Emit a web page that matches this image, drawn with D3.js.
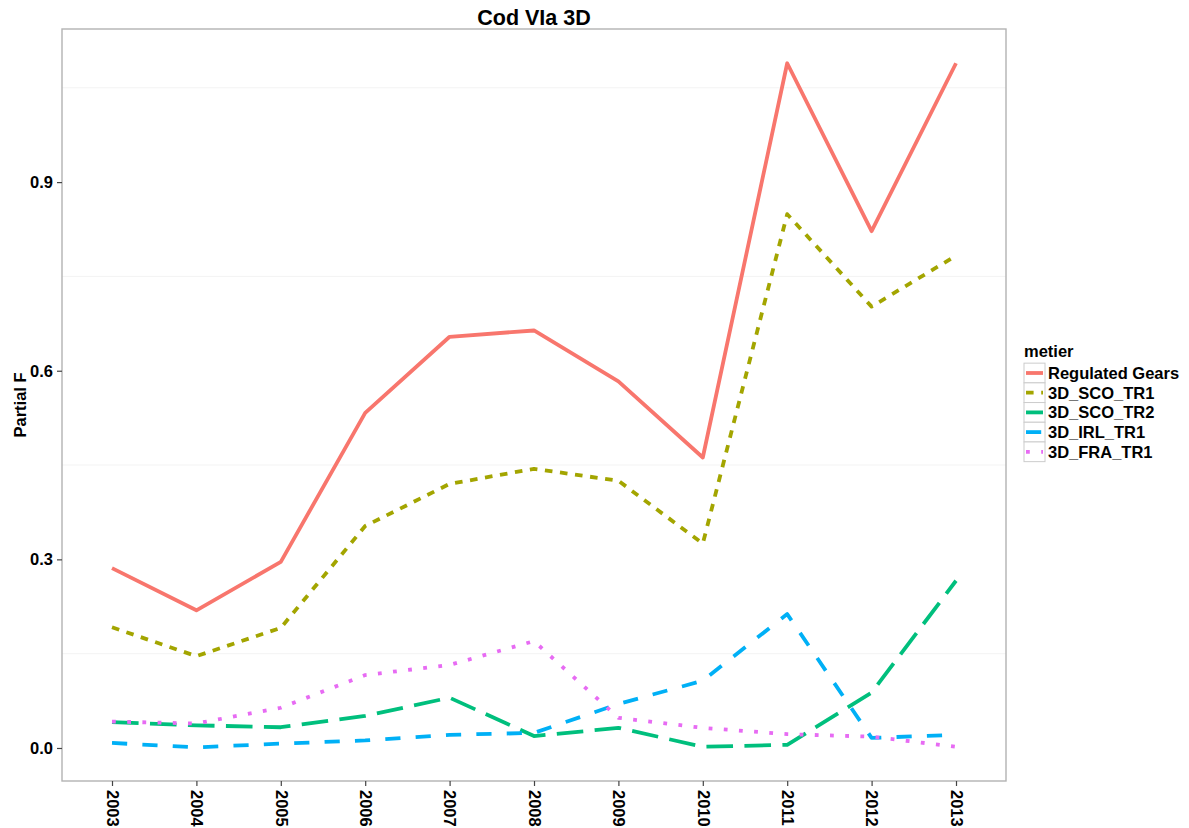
<!DOCTYPE html>
<html><head><meta charset="utf-8">
<script src="https://cdn.jsdelivr.net/npm/d3@7"></script>
<style>body{margin:0;background:#fff;} text{font-family:"Liberation Sans",Arial,sans-serif;}</style>
</head><body>
<svg id="c" width="1189" height="828"></svg>
<script>
const years = [2003,2004,2005,2006,2007,2008,2009,2010,2011,2012,2013];
const seriesNames = ["Regulated Gears","3D_SCO_TR1","3D_SCO_TR2","3D_IRL_TR1","3D_FRA_TR1"];
const regulatedGears = [0.286,0.219,0.296,0.533,0.654,0.664,0.583,0.462,1.089,0.822,1.089];
const sco_tr1 = [0.192,0.146,0.191,0.353,0.420,0.444,0.425,0.325,0.849,0.702,0.783];
const sco_tr2 = [0.041,0.036,0.033,0.051,0.080,0.019,0.032,0.002,0.005,0.088,0.266];
const irl_tr1 = [0.008,0.001,0.007,0.012,0.021,0.024,0.070,0.107,0.213,0.016,0.021];
const fra_tr1 = [0.042,0.039,0.064,0.116,0.132,0.170,0.048,0.032,0.022,0.018,0.002];
const yTicks = [0.0,0.3,0.6,0.9];
const yMinor = [0.15,0.45,0.75,1.05];
const colors = ["#F8766D","#A3A500","#00BF7D","#00B0F6","#E76BF3"];
const lw = 3.8;
const dashes = [null, [2,2], [7,3], [4,4], [1,3]];

const values = [regulatedGears, sco_tr1, sco_tr2, irl_tr1, fra_tr1];
const series = seriesNames.map((n,i)=>({name:n, color:colors[i], dash:dashes[i], vals:values[i]}));

const svg = d3.select("#c");
const L=62, R=1006, T=29, B=781;
const x = d3.scalePoint().domain(years).range([112,956]);
const y = d3.scaleLinear().domain([-0.0525,1.1435]).range([B,T]);

svg.append("rect").attr("x",L).attr("y",T).attr("width",R-L).attr("height",B-T).attr("fill","#fff");
svg.selectAll(".minor").data(yMinor).enter().append("line")
  .attr("x1",L).attr("x2",R).attr("y1",d=>y(d)).attr("y2",d=>y(d))
  .attr("stroke","#f3f3f3").attr("stroke-width",1);

const line = d3.line().x((d,i)=>x(years[i])).y(d=>y(d));
series.forEach(s=>{
  svg.append("path").datum(s.vals).attr("d",line).attr("fill","none")
    .attr("stroke",s.color).attr("stroke-width",lw)
    .attr("stroke-dasharray", s.dash ? s.dash.map(v=>v*lw).join(",") : null)
    .attr("stroke-linejoin","round");
});

svg.append("rect").attr("x",L).attr("y",T).attr("width",R-L).attr("height",B-T)
  .attr("fill","none").attr("stroke","#b3b3b3").attr("stroke-width",1.4);

const fs = 16.5;
// y axis
const yAxis = svg.append("g").attr("transform",`translate(${L},0)`)
  .call(d3.axisLeft(y).tickValues(yTicks).tickFormat(d3.format(".1f")).tickSize(5).tickPadding(4));
yAxis.select(".domain").remove();
yAxis.selectAll(".tick line").attr("stroke","#444").attr("stroke-width",1.2);
yAxis.selectAll(".tick text").attr("font-size",fs).attr("font-weight","bold").attr("fill","#000")
  .attr("font-family","Liberation Sans, Arial, sans-serif");

// x axis
const xAxis = svg.append("g").attr("transform",`translate(0,${B})`)
  .call(d3.axisBottom(x).tickSize(5).tickPadding(4));
xAxis.select(".domain").remove();
xAxis.selectAll(".tick line").attr("stroke","#444").attr("stroke-width",1.2);
xAxis.selectAll(".tick text").attr("font-size",fs).attr("font-weight","bold").attr("fill","#000")
  .attr("font-family","Liberation Sans, Arial, sans-serif")
  .attr("transform","rotate(90)").attr("text-anchor","start").attr("dy","0.35em").attr("x",9).attr("y",0);

// title
svg.append("text").attr("x",(L+R)/2).attr("y",25).attr("text-anchor","middle")
  .attr("font-size",21.5).attr("font-weight","bold").text("Cod VIa 3D");
// y title
svg.append("text").attr("transform",`translate(26,${(T+B)/2}) rotate(-90)`).attr("text-anchor","middle")
  .attr("font-size",fs).attr("font-weight","bold").text("Partial F");

// legend
const lg = svg.append("g").attr("transform","translate(1024,0)");
lg.append("text").attr("x",0).attr("y",357).attr("font-size",16.5).attr("font-weight","bold").text("metier");
series.forEach((s,i)=>{
  const cy = 373 + i*19.7;
  lg.append("rect").attr("x",0).attr("y",cy-9.85).attr("width",21).attr("height",19.7)
    .attr("fill","#fff").attr("stroke","#cccccc").attr("stroke-width",1);
  lg.append("line").attr("x1",2).attr("x2",19).attr("y1",cy).attr("y2",cy)
    .attr("stroke",s.color).attr("stroke-width",lw)
    .attr("stroke-dasharray", s.dash ? s.dash.map(v=>v*lw).join(",") : null);
  lg.append("text").attr("x",24).attr("y",cy+6).attr("font-size",fs).attr("font-weight","bold").text(s.name);
});
</script>
</body></html>
